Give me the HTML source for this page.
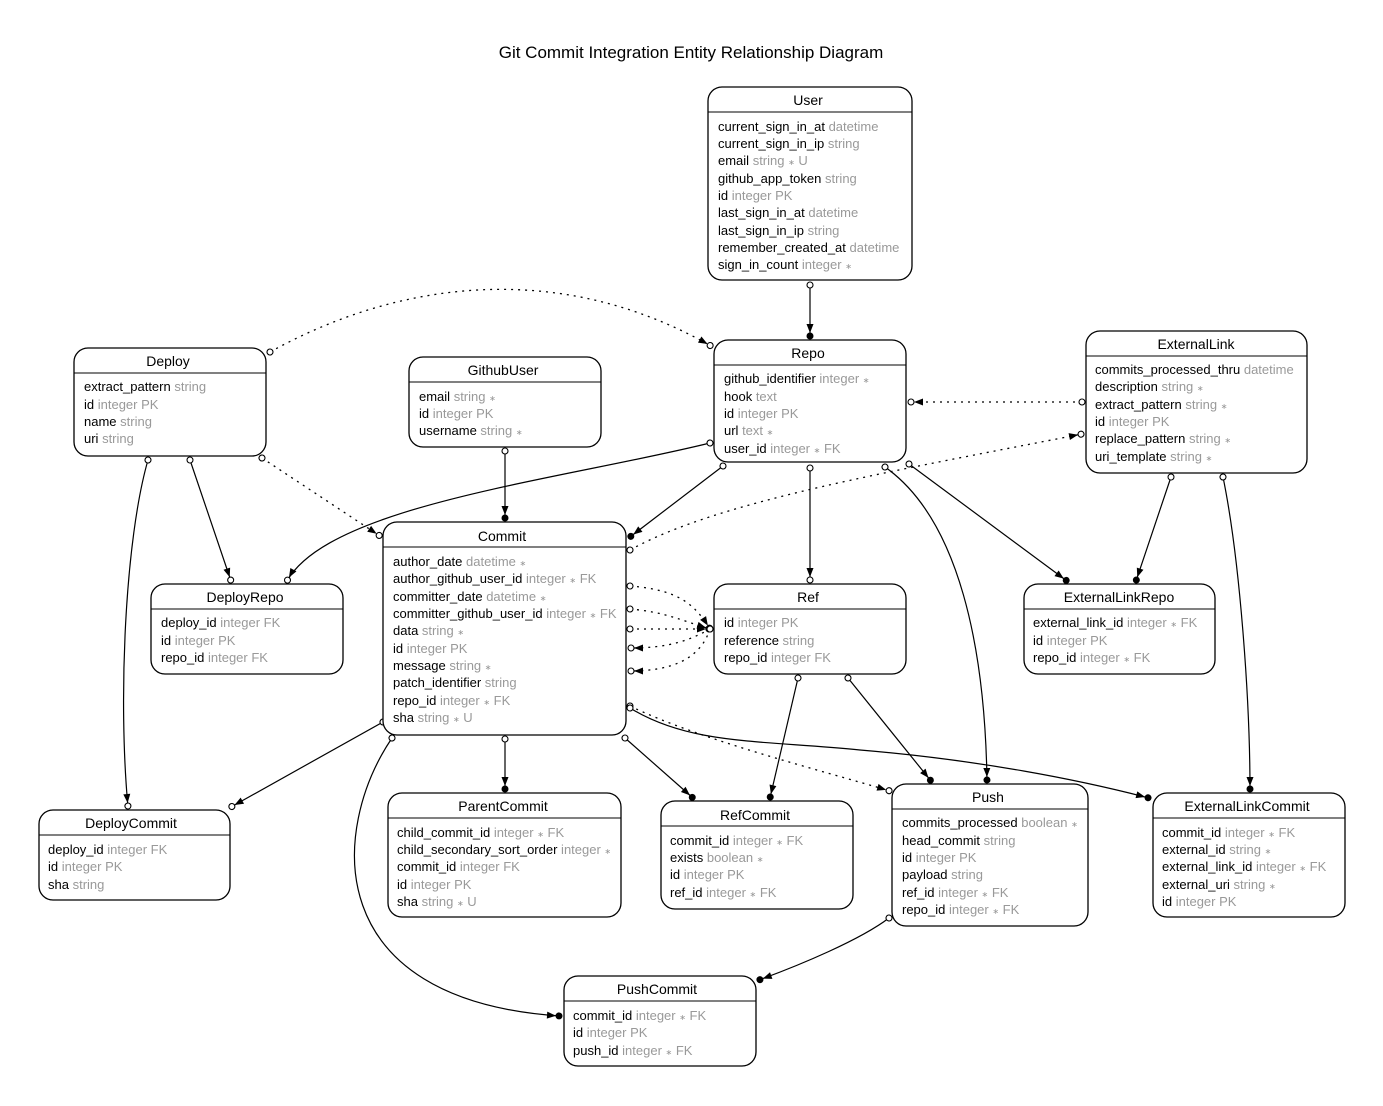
<!DOCTYPE html>
<html><head><meta charset="utf-8"><style>
html,body{margin:0;padding:0;background:#fff;}
svg{display:block;font-family:"Liberation Sans",Arial,sans-serif;}
.t{font-size:13px;fill:#000;}
.g{fill:#999;}
.s{font-size:8px;}
.h{font-size:14px;text-anchor:middle;}
.b{fill:#fff;stroke:#000;stroke-width:1.3;}
.e{fill:none;stroke:#000;stroke-width:1.2;}
.d{fill:none;stroke:#000;stroke-width:1.3;stroke-dasharray:2 5;}
</style></head><body>
<svg width="1383" height="1106" viewBox="0 0 1383 1106">
<defs>
<marker id="oc" markerWidth="10" markerHeight="10" refX="5" refY="5" markerUnits="userSpaceOnUse" orient="auto"><circle cx="5" cy="5" r="3" fill="#fff" stroke="#000" stroke-width="1.1"/></marker>
<marker id="ad" markerWidth="18" markerHeight="10" refX="14" refY="5" markerUnits="userSpaceOnUse" orient="auto"><path d="M1,1.5 L10,5 L1,8.5 Z" fill="#000"/><circle cx="13" cy="5" r="3.5" fill="#000"/></marker>
<marker id="ao" markerWidth="18" markerHeight="10" refX="14" refY="5" markerUnits="userSpaceOnUse" orient="auto"><path d="M1,1.5 L10,5 L1,8.5 Z" fill="#000"/><circle cx="13" cy="5" r="3" fill="#fff" stroke="#000" stroke-width="1.1"/></marker>
</defs>
<text x="691" y="58" font-size="17" text-anchor="middle">Git Commit Integration Entity Relationship Diagram</text>

<!-- edges -->
<g marker-start="url(#oc)">
<path class="e" marker-end="url(#ad)" d="M810 285 L810 337"/>
<path class="d" marker-end="url(#ao)" d="M270 352 C400 280 560 260 711 346"/>
<path class="d" marker-end="url(#ao)" d="M262 458 L380 536"/>
<path class="e" marker-end="url(#ao)" d="M190 460 L231 581"/>
<path class="e" marker-end="url(#ao)" d="M148 460 C125 540 118 700 128 807"/>
<path class="e" marker-end="url(#ad)" d="M505 451 L505 519"/>
<path class="e" marker-end="url(#ad)" d="M723 466 L630 537"/>
<path class="e" marker-end="url(#ao)" d="M710 443 C560 480 330 505 287 581"/>
<path class="e" marker-end="url(#ao)" d="M810 468 L810 581"/>
<path class="e" marker-end="url(#ad)" d="M885 467 C960 520 985 650 987 781"/>
<path class="e" marker-end="url(#ad)" d="M909 464 L1067 581"/>
<path class="d" marker-end="url(#ao)" d="M1082 402 L910 402"/>
<path class="d" marker-end="url(#ao)" d="M630 550 C720 500 900 470 1082 434"/>
<path class="e" marker-end="url(#ad)" d="M1171 477 L1136 581"/>
<path class="e" marker-end="url(#ad)" d="M1223 477 C1240 560 1250 700 1250 790"/>
<path class="d" marker-end="url(#ao)" d="M630 586 C680 590 695 605 710 629"/>
<path class="d" marker-end="url(#ao)" d="M630 609 C665 612 680 620 710 629"/>
<path class="d" marker-end="url(#ao)" d="M630 629 L710 629"/>
<path class="d" marker-end="url(#ao)" d="M710 629 C690 640 670 648 630 648"/>
<path class="d" marker-end="url(#ao)" d="M710 629 C700 660 670 671 630 671"/>
<path class="e" marker-end="url(#ad)" d="M798 678 L770 798"/>
<path class="e" marker-end="url(#ad)" d="M848 678 L931 781"/>
<path class="d" marker-end="url(#ao)" d="M630 706 C700 740 820 770 890 791"/>
<path class="e" marker-end="url(#ad)" d="M630 708 C690 745 760 740 860 750 C980 760 1080 780 1149 798"/>
<path class="e" marker-end="url(#ao)" d="M383 722 L231 807"/>
<path class="e" marker-end="url(#ad)" d="M505 739 L505 790"/>
<path class="e" marker-end="url(#ad)" d="M625 738 L693 798"/>
<path class="e" marker-end="url(#ad)" d="M392 738 C330 830 320 1000 560 1016"/>
<path class="e" marker-end="url(#ad)" d="M889 918 C860 940 800 965 759 980"/>
</g>

<!-- User -->
<rect class="b" x="708" y="87" width="204" height="193" rx="14"/>
<line x1="708" y1="112" x2="912" y2="112" stroke="#000"/>
<text class="t h" x="808" y="105">User</text>
<g class="t">
<text x="718" y="131">current_sign_in_at<tspan class="g"> datetime</tspan></text>
<text x="718" y="148">current_sign_in_ip<tspan class="g"> string</tspan></text>
<text x="718" y="165">email<tspan class="g"> string <tspan class="s">∗</tspan> U</tspan></text>
<text x="718" y="183">github_app_token<tspan class="g"> string</tspan></text>
<text x="718" y="200">id<tspan class="g"> integer PK</tspan></text>
<text x="718" y="217">last_sign_in_at<tspan class="g"> datetime</tspan></text>
<text x="718" y="235">last_sign_in_ip<tspan class="g"> string</tspan></text>
<text x="718" y="252">remember_created_at<tspan class="g"> datetime</tspan></text>
<text x="718" y="269">sign_in_count<tspan class="g"> integer <tspan class="s">∗</tspan></tspan></text>
</g>

<!-- Repo -->
<rect class="b" x="714" y="340" width="192" height="122" rx="14"/>
<line x1="714" y1="365" x2="906" y2="365" stroke="#000"/>
<text class="t h" x="808" y="358">Repo</text>
<g class="t">
<text x="724" y="383">github_identifier<tspan class="g"> integer <tspan class="s">∗</tspan></tspan></text>
<text x="724" y="401">hook<tspan class="g"> text</tspan></text>
<text x="724" y="418">id<tspan class="g"> integer PK</tspan></text>
<text x="724" y="435">url<tspan class="g"> text <tspan class="s">∗</tspan></tspan></text>
<text x="724" y="453">user_id<tspan class="g"> integer <tspan class="s">∗</tspan> FK</tspan></text>
</g>

<!-- ExternalLink -->
<rect class="b" x="1086" y="331" width="221" height="142" rx="14"/>
<line x1="1086" y1="356" x2="1307" y2="356" stroke="#000"/>
<text class="t h" x="1196" y="349">ExternalLink</text>
<g class="t">
<text x="1095" y="374">commits_processed_thru<tspan class="g"> datetime</tspan></text>
<text x="1095" y="391">description<tspan class="g"> string <tspan class="s">∗</tspan></tspan></text>
<text x="1095" y="409">extract_pattern<tspan class="g"> string <tspan class="s">∗</tspan></tspan></text>
<text x="1095" y="426">id<tspan class="g"> integer PK</tspan></text>
<text x="1095" y="443">replace_pattern<tspan class="g"> string <tspan class="s">∗</tspan></tspan></text>
<text x="1095" y="461">uri_template<tspan class="g"> string <tspan class="s">∗</tspan></tspan></text>
</g>

<!-- Deploy -->
<rect class="b" x="74" y="348" width="192" height="108" rx="14"/>
<line x1="74" y1="373" x2="266" y2="373" stroke="#000"/>
<text class="t h" x="168" y="366">Deploy</text>
<g class="t">
<text x="84" y="391">extract_pattern<tspan class="g"> string</tspan></text>
<text x="84" y="409">id<tspan class="g"> integer PK</tspan></text>
<text x="84" y="426">name<tspan class="g"> string</tspan></text>
<text x="84" y="443">uri<tspan class="g"> string</tspan></text>
</g>

<!-- GithubUser -->
<rect class="b" x="409" y="357" width="192" height="90" rx="14"/>
<line x1="409" y1="382" x2="601" y2="382" stroke="#000"/>
<text class="t h" x="503" y="375">GithubUser</text>
<g class="t">
<text x="419" y="401">email<tspan class="g"> string <tspan class="s">∗</tspan></tspan></text>
<text x="419" y="418">id<tspan class="g"> integer PK</tspan></text>
<text x="419" y="435">username<tspan class="g"> string <tspan class="s">∗</tspan></tspan></text>
</g>

<!-- Commit -->
<rect class="b" x="383" y="522" width="243" height="213" rx="14"/>
<line x1="383" y1="547" x2="626" y2="547" stroke="#000"/>
<text class="t h" x="502" y="541">Commit</text>
<g class="t">
<text x="393" y="566">author_date<tspan class="g"> datetime <tspan class="s">∗</tspan></tspan></text>
<text x="393" y="583">author_github_user_id<tspan class="g"> integer <tspan class="s">∗</tspan> FK</tspan></text>
<text x="393" y="601">committer_date<tspan class="g"> datetime <tspan class="s">∗</tspan></tspan></text>
<text x="393" y="618">committer_github_user_id<tspan class="g"> integer <tspan class="s">∗</tspan> FK</tspan></text>
<text x="393" y="635">data<tspan class="g"> string <tspan class="s">∗</tspan></tspan></text>
<text x="393" y="653">id<tspan class="g"> integer PK</tspan></text>
<text x="393" y="670">message<tspan class="g"> string <tspan class="s">∗</tspan></tspan></text>
<text x="393" y="687">patch_identifier<tspan class="g"> string</tspan></text>
<text x="393" y="705">repo_id<tspan class="g"> integer <tspan class="s">∗</tspan> FK</tspan></text>
<text x="393" y="722">sha<tspan class="g"> string <tspan class="s">∗</tspan> U</tspan></text>
</g>

<!-- DeployRepo -->
<rect class="b" x="151" y="584" width="192" height="90" rx="14"/>
<line x1="151" y1="609" x2="343" y2="609" stroke="#000"/>
<text class="t h" x="245" y="602">DeployRepo</text>
<g class="t">
<text x="161" y="627">deploy_id<tspan class="g"> integer FK</tspan></text>
<text x="161" y="645">id<tspan class="g"> integer PK</tspan></text>
<text x="161" y="662">repo_id<tspan class="g"> integer FK</tspan></text>
</g>

<!-- Ref -->
<rect class="b" x="714" y="584" width="192" height="90" rx="14"/>
<line x1="714" y1="609" x2="906" y2="609" stroke="#000"/>
<text class="t h" x="808" y="602">Ref</text>
<g class="t">
<text x="724" y="627">id<tspan class="g"> integer PK</tspan></text>
<text x="724" y="645">reference<tspan class="g"> string</tspan></text>
<text x="724" y="662">repo_id<tspan class="g"> integer FK</tspan></text>
</g>

<!-- ExternalLinkRepo -->
<rect class="b" x="1024" y="584" width="191" height="90" rx="14"/>
<line x1="1024" y1="609" x2="1215" y2="609" stroke="#000"/>
<text class="t h" x="1119" y="602">ExternalLinkRepo</text>
<g class="t">
<text x="1033" y="627">external_link_id<tspan class="g"> integer <tspan class="s">∗</tspan> FK</tspan></text>
<text x="1033" y="645">id<tspan class="g"> integer PK</tspan></text>
<text x="1033" y="662">repo_id<tspan class="g"> integer <tspan class="s">∗</tspan> FK</tspan></text>
</g>

<!-- DeployCommit -->
<rect class="b" x="39" y="810" width="191" height="90" rx="14"/>
<line x1="39" y1="835" x2="230" y2="835" stroke="#000"/>
<text class="t h" x="131" y="828">DeployCommit</text>
<g class="t">
<text x="48" y="854">deploy_id<tspan class="g"> integer FK</tspan></text>
<text x="48" y="871">id<tspan class="g"> integer PK</tspan></text>
<text x="48" y="889">sha<tspan class="g"> string</tspan></text>
</g>

<!-- ParentCommit -->
<rect class="b" x="388" y="793" width="233" height="124" rx="14"/>
<line x1="388" y1="818" x2="621" y2="818" stroke="#000"/>
<text class="t h" x="503" y="811">ParentCommit</text>
<g class="t">
<text x="397" y="837">child_commit_id<tspan class="g"> integer <tspan class="s">∗</tspan> FK</tspan></text>
<text x="397" y="854">child_secondary_sort_order<tspan class="g"> integer <tspan class="s">∗</tspan></tspan></text>
<text x="397" y="871">commit_id<tspan class="g"> integer FK</tspan></text>
<text x="397" y="889">id<tspan class="g"> integer PK</tspan></text>
<text x="397" y="906">sha<tspan class="g"> string <tspan class="s">∗</tspan> U</tspan></text>
</g>

<!-- RefCommit -->
<rect class="b" x="661" y="801" width="192" height="108" rx="14"/>
<line x1="661" y1="826" x2="853" y2="826" stroke="#000"/>
<text class="t h" x="755" y="820">RefCommit</text>
<g class="t">
<text x="670" y="845">commit_id<tspan class="g"> integer <tspan class="s">∗</tspan> FK</tspan></text>
<text x="670" y="862">exists<tspan class="g"> boolean <tspan class="s">∗</tspan></tspan></text>
<text x="670" y="879">id<tspan class="g"> integer PK</tspan></text>
<text x="670" y="897">ref_id<tspan class="g"> integer <tspan class="s">∗</tspan> FK</tspan></text>
</g>

<!-- Push -->
<rect class="b" x="892" y="784" width="196" height="142" rx="14"/>
<line x1="892" y1="809" x2="1088" y2="809" stroke="#000"/>
<text class="t h" x="988" y="802">Push</text>
<g class="t">
<text x="902" y="827">commits_processed<tspan class="g"> boolean <tspan class="s">∗</tspan></tspan></text>
<text x="902" y="845">head_commit<tspan class="g"> string</tspan></text>
<text x="902" y="862">id<tspan class="g"> integer PK</tspan></text>
<text x="902" y="879">payload<tspan class="g"> string</tspan></text>
<text x="902" y="897">ref_id<tspan class="g"> integer <tspan class="s">∗</tspan> FK</tspan></text>
<text x="902" y="914">repo_id<tspan class="g"> integer <tspan class="s">∗</tspan> FK</tspan></text>
</g>

<!-- ExternalLinkCommit -->
<rect class="b" x="1153" y="793" width="192" height="124" rx="14"/>
<line x1="1153" y1="818" x2="1345" y2="818" stroke="#000"/>
<text class="t h" x="1247" y="811">ExternalLinkCommit</text>
<g class="t">
<text x="1162" y="837">commit_id<tspan class="g"> integer <tspan class="s">∗</tspan> FK</tspan></text>
<text x="1162" y="854">external_id<tspan class="g"> string <tspan class="s">∗</tspan></tspan></text>
<text x="1162" y="871">external_link_id<tspan class="g"> integer <tspan class="s">∗</tspan> FK</tspan></text>
<text x="1162" y="889">external_uri<tspan class="g"> string <tspan class="s">∗</tspan></tspan></text>
<text x="1162" y="906">id<tspan class="g"> integer PK</tspan></text>
</g>

<!-- PushCommit -->
<rect class="b" x="564" y="976" width="192" height="90" rx="14"/>
<line x1="564" y1="1001" x2="756" y2="1001" stroke="#000"/>
<text class="t h" x="657" y="994">PushCommit</text>
<g class="t">
<text x="573" y="1020">commit_id<tspan class="g"> integer <tspan class="s">∗</tspan> FK</tspan></text>
<text x="573" y="1037">id<tspan class="g"> integer PK</tspan></text>
<text x="573" y="1055">push_id<tspan class="g"> integer <tspan class="s">∗</tspan> FK</tspan></text>
</g>
</svg>
</body></html>
